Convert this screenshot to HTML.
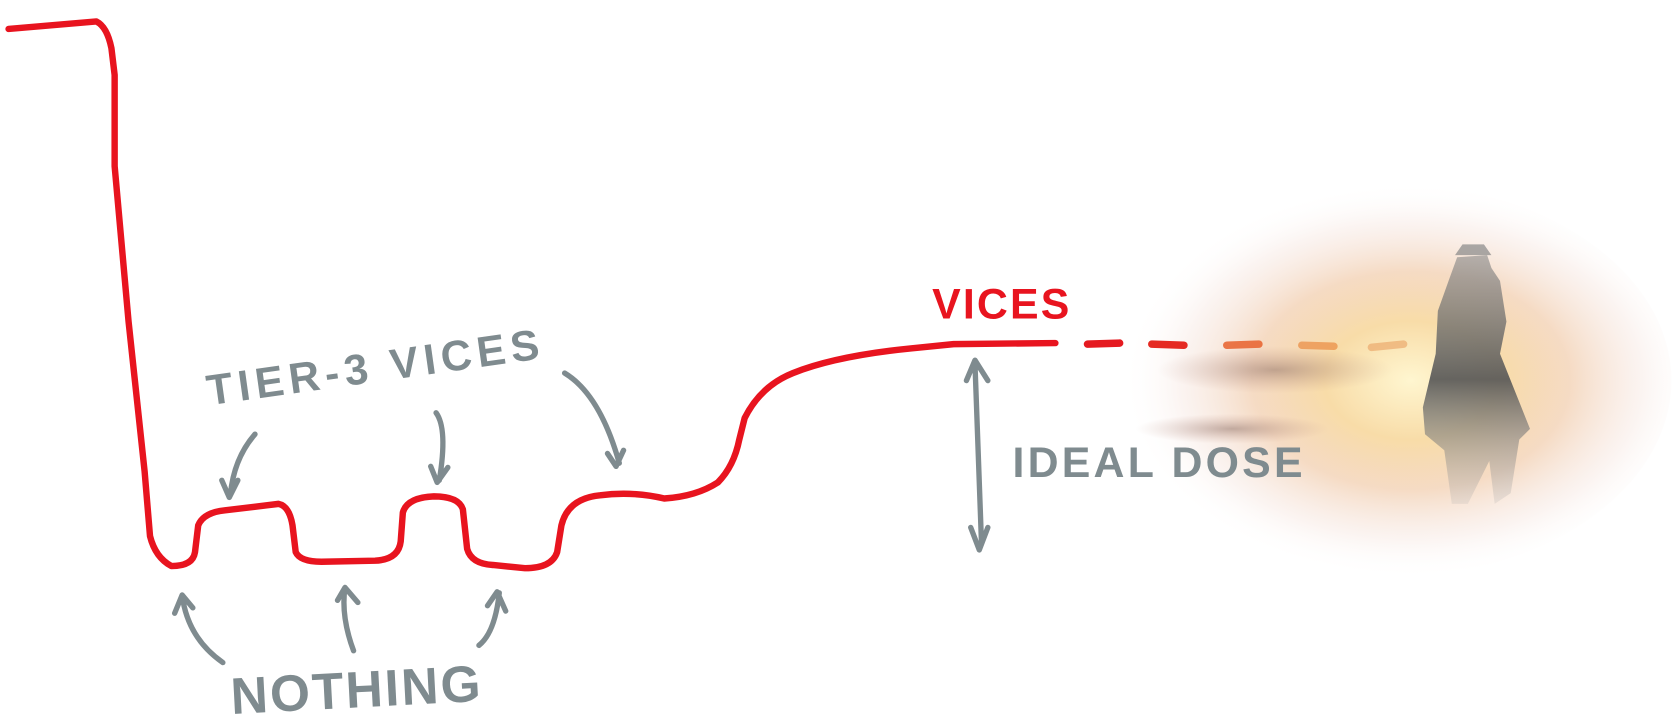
<!DOCTYPE html>
<html><head><style>
html,body{margin:0;padding:0;background:#fff;width:1680px;height:714px;overflow:hidden}
svg{display:block}
text{font-family:"Liberation Sans",sans-serif;font-weight:bold}
</style></head><body>
<svg width="1680" height="714" viewBox="0 0 1568 666" preserveAspectRatio="none">
<defs>
<radialGradient id="sun" cx="0.55" cy="0.5" r="0.5">
<stop offset="0" stop-color="#fff6d0"/>
<stop offset="0.3" stop-color="#f8dca8"/>
<stop offset="0.55" stop-color="#f2cfb0" stop-opacity="0.75"/>
<stop offset="0.8" stop-color="#f4e0d8" stop-opacity="0.35"/>
<stop offset="1" stop-color="#ffffff" stop-opacity="0"/>
</radialGradient>
<radialGradient id="cloud" cx="0.5" cy="0.5" r="0.5">
<stop offset="0" stop-color="#8a6a60" stop-opacity="0.5"/>
<stop offset="1" stop-color="#c09080" stop-opacity="0"/>
</radialGradient>
<linearGradient id="man" x1="0" y1="0" x2="0" y2="1">
<stop offset="0" stop-color="#888" stop-opacity="0.6"/>
<stop offset="0.5" stop-color="#555" stop-opacity="0.9"/>
<stop offset="1" stop-color="#aaa" stop-opacity="0.2"/>
</linearGradient>
</defs>
<ellipse cx="1290" cy="355" rx="270" ry="185" fill="url(#sun)"/>
<ellipse cx="1190" cy="345" rx="110" ry="22" fill="url(#cloud)"/>
<ellipse cx="1150" cy="400" rx="90" ry="14" fill="url(#cloud)"/>
<path d="M1360 240 L1388 238 L1392 250 L1400 262 L1406 300 L1400 330 L1420 380 L1428 400 L1418 410 L1410 460 L1395 470 L1390 430 L1370 470 L1355 470 L1348 420 L1330 405 L1328 380 L1340 330 L1342 290 L1352 262 Z" fill="url(#man)"/>
<path d="M1358 238 L1392 238 L1385 228 L1365 228 Z" fill="#888" opacity="0.7"/>
<path d="M8 27 L90 20 Q100 25 104 45 L107 70 L107 155 L120 300 L135 440 L140 500 Q145 520 160 528 Q180 528 182 515 L185 490 Q190 478 210 476 L260 470 Q270 472 273 490 L276 515 Q280 524 300 524 L350 523 Q372 522 374 505 L376 478 Q380 464 405 463 Q428 463 432 475 L436 512 Q440 526 460 527 L490 530 Q515 530 520 515 L524 490 Q530 465 560 462 Q590 458 620 465 Q650 463 670 450 Q685 435 690 410 L695 390 Q710 360 740 348 Q780 332 850 325 L890 321 L985 320" fill="none" stroke="#e8141f" stroke-width="6" stroke-linecap="round" stroke-linejoin="round"/>
<g stroke-width="7" stroke-linecap="round" fill="none">
<line x1="1015" y1="321" x2="1045" y2="320" stroke="#e51a20"/>
<line x1="1075" y1="321" x2="1105" y2="322" stroke="#e52a22"/>
<line x1="1145" y1="322" x2="1175" y2="321" stroke="#e8602c" opacity="0.85"/>
<line x1="1215" y1="322" x2="1245" y2="323" stroke="#e98a40" opacity="0.7"/>
<line x1="1280" y1="324" x2="1310" y2="321" stroke="#eaa060" opacity="0.6"/>
</g>
<g stroke="#7f8b8f" stroke-width="5" stroke-linecap="round" stroke-linejoin="round" fill="none">
<path d="M238 405 Q218 428 215 462 M207 448 L214 464 L222 448"/>
<path d="M407 385 Q418 400 410 448 M402 435 L408 450 L418 436"/>
<path d="M527 348 Q560 368 578 432 M567 423 L575 435 L582 420"/>
<path d="M208 618 Q175 595 170 555 M163 572 L170 555 L180 567"/>
<path d="M330 607 Q318 575 322 548 M315 560 L322 548 L334 562"/>
<path d="M447 602 Q462 590 466 553 M455 565 L464 552 L472 570"/>
<path d="M910 340 L916 505 M902 355 L910 336 L922 355 M906 492 L914 513 L922 492"/>
</g>
<text x="0" y="0" font-size="40" fill="#7f8b8f" transform="translate(195 378) rotate(-8)" letter-spacing="5">TIER-3 VICES</text>
<text x="215" y="660" font-size="48" fill="#7f8b8f" letter-spacing="2" transform="rotate(-3 330 640)">NOTHING</text>
<text x="945" y="445" font-size="40" fill="#7f8b8f" letter-spacing="3">IDEAL DOSE</text>
<text x="870" y="297" font-size="40" fill="#e8141f" letter-spacing="2">VICES</text>
</svg>
</body></html>
